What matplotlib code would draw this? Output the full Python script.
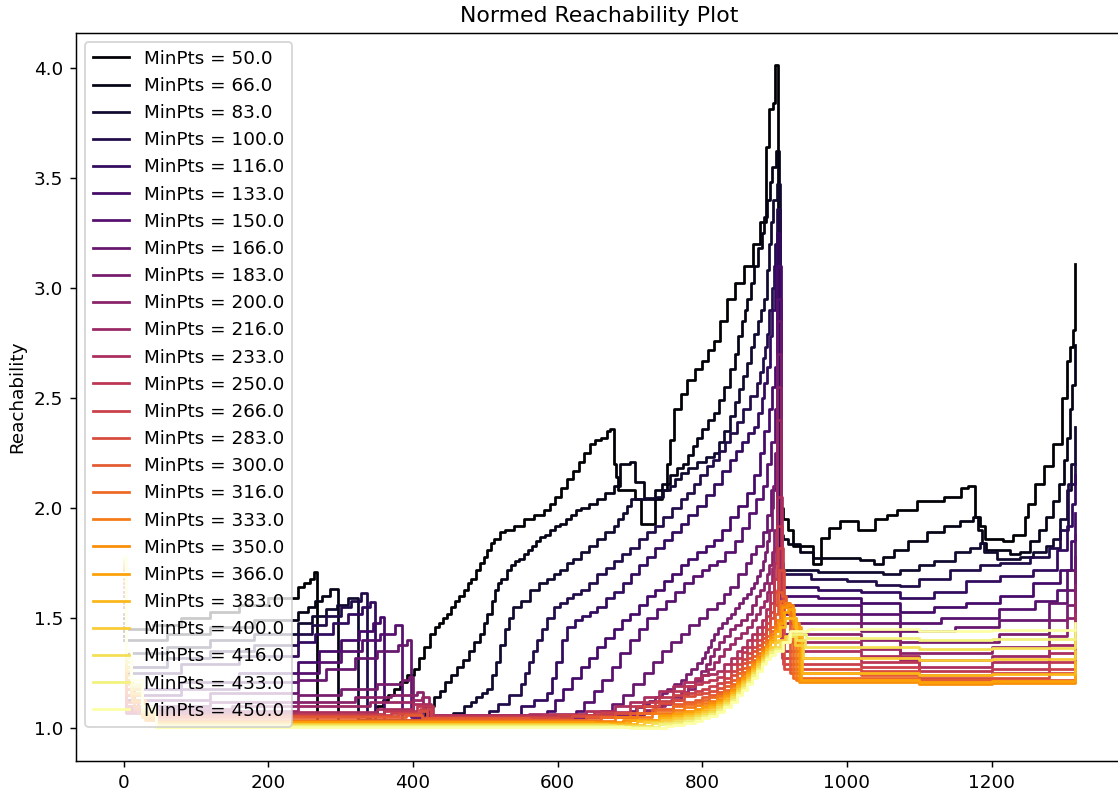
import matplotlib
matplotlib.use("Agg")
import matplotlib.pyplot as plt

# ---- data: MinPts values and reachability knots (x, y) ----
min_pts = [50.0, 66.0, 83.0, 100.0, 116.0, 133.0, 150.0, 166.0, 183.0, 200.0,
           216.0, 233.0, 250.0, 266.0, 283.0, 300.0, 316.0, 333.0, 350.0, 366.0,
           383.0, 400.0, 416.0, 433.0, 450.0]

r050 = [(0,1.50),(3,1.45),(40,1.47),(80,1.50),(120,1.53),(160,1.56),(200,1.59),(241,1.643),(250,1.66),(258,1.68),(263,1.711),
        (268,1.02),(300,1.025),(325,1.04),(340,1.07),(350,1.10),(358,1.13),(366,1.15),(374,1.18),(382,1.21),(392,1.24),(401,1.27),
        (408,1.32),(415,1.37),(424,1.43),(430,1.46),(436,1.48),(441,1.50),(447,1.52),(452,1.55),(458,1.58),(464,1.60),(470,1.63),
        (476,1.66),(481,1.68),(487,1.72),(493,1.75),(498,1.78),(503,1.81),(508,1.84),(512,1.86),(520,1.89),(528,1.90),(540,1.92),
        (553,1.95),(567,1.97),(581,1.99),(589,2.02),(597,2.05),(605,2.09),(613,2.13),(621,2.17),(629,2.21),(637,2.25),(645,2.29),
        (652,2.31),(660,2.32),(668,2.35),(673,2.36),(678,2.20),(681,2.14),(684,2.08),(707,2.04),(716,1.93),(735,2.04),(745,2.08),
        (752,2.20),(756,2.31),(761,2.45),(770,2.52),(779,2.58),(790,2.63),(800,2.67),(808,2.72),(816,2.76),(825,2.85),(834,2.95),
        (845,3.02),(858,3.10),(870,3.20),(880,3.30),(888,3.64),(893,3.81),(898,3.84),(901,4.01),(905,2.00),(912,1.95),(918,1.90),
        (926,1.83),(953,1.745),(964,1.865),(976,1.91),(990,1.94),(1015,1.90),(1039,1.95),(1055,1.97),(1069,1.99),(1097,2.03),
        (1134,2.05),(1158,2.09),(1168,2.10),(1177,1.96),(1184,1.92),(1191,1.86),(1216,1.85),(1230,1.88),(1246,1.96),(1251,2.02),
        (1260,2.11),(1272,2.19),(1285,2.29),(1297,2.50),(1304,2.67),(1308,2.73),(1313,2.81),(1316,3.11)]

r066 = [(0,1.46),(3,1.40),(60,1.43),(120,1.46),(180,1.49),(241,1.53),(255,1.55),(265,1.58),(275,1.60),(285,1.633),
        (296,1.03),(340,1.03),(380,1.04),(405,1.06),(417,1.10),(429,1.14),(437,1.17),(445,1.21),(453,1.24),(461,1.28),(469,1.31),
        (477,1.35),(485,1.39),(493,1.43),(498,1.48),(503,1.52),(509,1.58),(514,1.63),(518,1.66),(522,1.68),(530,1.72),(536,1.74),
        (541,1.76),(547,1.77),(553,1.79),(559,1.81),(565,1.83),(570,1.85),(576,1.87),(583,1.88),(590,1.90),(597,1.92),(604,1.93),
        (611,1.95),(618,1.97),(625,1.99),(632,2.00),(643,2.02),(655,2.04),(666,2.07),(678,2.10),(686,2.20),(700,2.21),(707,2.12),
        (720,2.04),(735,2.08),(745,2.11),(755,2.15),(765,2.18),(773,2.20),(780,2.24),(787,2.28),(793,2.32),(800,2.36),(808,2.40),
        (816,2.43),(823,2.49),(830,2.55),(838,2.63),(845,2.70),(850,2.78),(855,2.85),(859,2.90),(862,2.95),(867,3.02),(872,3.10),
        (877,3.18),(882,3.25),(886,3.32),(890,3.40),(894,3.48),(897,3.55),(902,3.62),(906,1.88),(912,1.86),(919,1.835),(935,1.80),
        (953,1.775),(1018,1.765),(1037,1.745),(1050,1.78),(1065,1.81),(1085,1.85),(1111,1.89),(1135,1.92),(1157,1.94),(1175,1.96),
        (1182,1.90),(1187,1.84),(1193,1.81),(1225,1.79),(1239,1.80),(1253,1.85),(1265,1.90),(1276,1.96),(1285,2.03),(1294,2.11),
        (1300,2.22),(1304,2.32),(1308,2.45),(1311,2.56),(1316,2.74)]

r083 = [(0,1.44),(3,1.34),(60,1.37),(120,1.40),(180,1.43),(241,1.48),(260,1.51),(280,1.54),(295,1.56),(310,1.59),
        (324,1.03),(400,1.035),(440,1.05),(455,1.07),(470,1.10),(480,1.12),(487,1.14),(495,1.16),(503,1.18),(509,1.24),(515,1.30),
        (521,1.38),(527,1.45),(533,1.50),(538,1.55),(549,1.58),(562,1.63),(575,1.66),(585,1.68),(595,1.70),(604,1.72),(613,1.75),
        (622,1.77),(632,1.80),(643,1.83),(655,1.86),(666,1.89),(678,1.92),(684,1.95),(690,1.98),(696,2.01),(701,2.04),(720,2.045),
        (738,2.05),(746,2.08),(755,2.10),(762,2.13),(770,2.16),(781,2.18),(793,2.21),(805,2.23),(816,2.25),(823,2.30),(830,2.35),
        (838,2.42),(845,2.48),(851,2.54),(857,2.60),(862,2.66),(867,2.73),(872,2.79),(877,2.85),(881,2.90),(885,2.95),(889,3.08),
        (892,3.20),(895,3.30),(898,3.40),(903,3.47),(907,1.75),(912,1.72),(960,1.71),(1020,1.71),(1050,1.70),(1073,1.72),
        (1100,1.74),(1120,1.76),(1150,1.80),(1170,1.82),(1184,1.84),(1190,1.80),(1207,1.77),(1240,1.78),(1258,1.80),(1275,1.83),
        (1285,1.86),(1295,1.95),(1304,2.08),(1310,2.20),(1316,2.37)]

r100 = [(0,1.42),(3,1.28),(60,1.32),(120,1.35),(180,1.38),(241,1.43),(260,1.47),(280,1.51),(300,1.55),(315,1.58),(328,1.616),
        (337,1.04),(420,1.04),(480,1.05),(505,1.08),(517,1.11),(533,1.15),(549,1.20),(555,1.25),(560,1.30),(566,1.35),(572,1.40),
        (578,1.45),(585,1.50),(595,1.55),(604,1.57),(613,1.59),(622,1.61),(632,1.63),(643,1.66),(655,1.70),(667,1.73),(678,1.76),
        (689,1.79),(700,1.82),(712,1.86),(724,1.89),(735,1.92),(746,1.96),(758,2.00),(770,2.04),(779,2.07),(788,2.11),(797,2.15),
        (807,2.19),(815,2.22),(823,2.26),(831,2.30),(839,2.34),(848,2.39),(857,2.45),(866,2.51),(876,2.57),(880,2.62),(884,2.68),
        (887,2.73),(890,2.79),(893,2.90),(896,3.00),(899,3.10),(901,3.20),(904,3.36),(908,1.70),(950,1.68),(1000,1.67),(1040,1.65),
        (1073,1.645),(1100,1.68),(1142,1.72),(1184,1.74),(1212,1.75),(1253,1.78),(1280,1.82),(1295,1.90),(1306,2.11),(1316,2.20)]

r116 = [(0,1.40),(3,1.25),(80,1.29),(160,1.33),(241,1.39),(265,1.43),(290,1.48),(310,1.52),(330,1.55),(340,1.575),
        (347,1.04),(450,1.04),(520,1.045),(549,1.10),(567,1.13),(585,1.16),(592,1.23),(598,1.30),(606,1.40),(613,1.46),(624,1.49),
        (634,1.51),(645,1.53),(655,1.55),(667,1.59),(678,1.62),(690,1.66),(701,1.70),(713,1.74),(724,1.78),(735,1.82),(747,1.855),
        (758,1.89),(770,1.93),(781,1.97),(793,2.01),(805,2.06),(816,2.11),(828,2.17),(839,2.22),(847,2.26),(855,2.30),(863,2.34),
        (871,2.37),(877,2.43),(882,2.50),(886,2.57),(890,2.64),(894,2.78),(897,2.90),(901,3.10),(904,3.25),(908,1.64),(960,1.63),
        (1020,1.62),(1073,1.59),(1120,1.62),(1165,1.67),(1212,1.69),(1257,1.72),(1290,1.81),(1305,1.92),(1311,2.02),(1316,2.15)]

r133 = [(0,1.42),(3,1.18),(80,1.21),(160,1.25),(241,1.30),(270,1.35),(300,1.40),(325,1.44),(345,1.48),(355,1.507),
        (360,1.04),(450,1.04),(530,1.045),(585,1.08),(597,1.13),(608,1.18),(620,1.23),(632,1.28),(643,1.32),(655,1.37),(666,1.41),
        (678,1.45),(689,1.49),(700,1.52),(712,1.56),(724,1.60),(735,1.63),(747,1.67),(758,1.70),(770,1.74),(781,1.77),(793,1.80),
        (805,1.83),(816,1.855),(828,1.90),(839,1.96),(850,2.01),(862,2.07),(871,2.15),(880,2.25),(886,2.35),(892,2.45),(897,2.55),
        (901,2.64),(904,3.10),(909,1.60),(960,1.59),(1020,1.57),(1073,1.53),(1120,1.55),(1165,1.57),(1212,1.60),(1257,1.66),
        (1295,1.72),(1310,1.85),(1316,1.98)]

r150 = [(0,1.45),(3,1.15),(80,1.18),(160,1.21),(241,1.25),(270,1.30),(300,1.35),(330,1.40),(355,1.43),(375,1.47),
        (385,1.04),(500,1.04),(580,1.045),(625,1.08),(637,1.12),(650,1.17),(662,1.22),(675,1.28),(687,1.34),(700,1.40),(712,1.45),
        (724,1.50),(737,1.54),(750,1.58),(762,1.62),(775,1.66),(787,1.69),(800,1.72),(810,1.74),(820,1.76),(832,1.80),(845,1.85),
        (855,1.91),(865,1.98),(875,2.04),(884,2.10),(890,2.20),(895,2.30),(900,2.45),(903,2.95),(909,1.56),(1020,1.52),(1073,1.48),
        (1130,1.50),(1211,1.54),(1260,1.58),(1290,1.63),(1305,1.72),(1316,1.88)]

r166 = [(0,1.48),(3,1.13),(120,1.16),(241,1.22),(280,1.27),(320,1.32),(350,1.35),(380,1.38),(392,1.40),
        (398,1.05),(520,1.05),(610,1.055),(660,1.08),(675,1.11),(690,1.15),(705,1.20),(720,1.25),(732,1.30),(745,1.35),(757,1.39),
        (770,1.43),(782,1.47),(795,1.50),(807,1.54),(820,1.57),(830,1.61),(839,1.64),(850,1.70),(860,1.75),(868,1.79),(875,1.83),
        (884,1.89),(890,1.97),(895,2.08),(900,2.25),(903,2.85),(909,1.52),(1020,1.48),(1073,1.44),(1150,1.46),(1211,1.49),
        (1280,1.57),(1305,1.63),(1316,1.78)]

r183 = [(0,1.50),(3,1.10),(120,1.12),(241,1.15),(300,1.18),(350,1.20),(385,1.22),(395,1.234),
        (400,1.05),(540,1.05),(640,1.06),(700,1.08),(709,1.095),(718,1.11),(727,1.125),(735,1.14),(744,1.16),(752,1.18),(761,1.20),
        (770,1.22),(778,1.245),(785,1.27),(793,1.295),(800,1.32),(804,1.345),(808,1.37),(812,1.40),(816,1.43),(822,1.455),
        (828,1.48),(834,1.50),(840,1.52),(846,1.545),(851,1.57),(857,1.59),(862,1.61),(867,1.635),(871,1.66),(876,1.69),(880,1.72),
        (884,1.76),(887,1.80),(890,1.85),(893,1.90),(896,2.00),(898,2.10),(903,2.70),
        (909,1.48),(1020,1.44),(1073,1.39),(1211,1.43),(1280,1.49),(1305,1.56),(1316,1.72)]

r200 = [(0,1.52),(3,1.09),(150,1.10),(241,1.12),(320,1.14),(370,1.15),(405,1.166),
        (414,1.05),(560,1.05),(660,1.06),(720,1.08),(735,1.10),(745,1.11),(757,1.13),(770,1.15),(780,1.18),(790,1.22),(798,1.26),
        (805,1.29),(811,1.33),(816,1.36),(823,1.39),(830,1.42),(838,1.45),(845,1.47),(853,1.49),(862,1.52),(869,1.56),(875,1.60),
        (880,1.63),(885,1.66),(889,1.70),(893,1.74),(896,1.80),(899,1.90),(903,2.55),
        (909,1.43),(1020,1.40),(1073,1.34),(1200,1.37),(1280,1.42),(1305,1.50),(1316,1.65)]

r216 = [(0,1.55),(3,1.08),(241,1.10),(340,1.12),(400,1.13),(412,1.144),
        (422,1.06),(580,1.06),(680,1.07),(720,1.085),(735,1.10),(748,1.12),(760,1.14),(770,1.165),(780,1.19),(790,1.215),
        (800,1.24),(808,1.27),(816,1.30),(823,1.33),(830,1.36),(838,1.385),(846,1.41),(854,1.435),(862,1.46),(869,1.49),
        (875,1.52),(880,1.55),(885,1.58),(889,1.62),(893,1.66),(896,1.73),(899,1.82),(903,2.40),
        (909,1.39),(1020,1.36),(1073,1.31),(1200,1.33),(1280,1.38),(1316,1.58)]

r233 = [(0,1.57),(3,1.07),(241,1.075),(350,1.09),(400,1.11),
        (425,1.06),(480,1.06),(560,1.065),(640,1.08),(680,1.10),(700,1.12),(720,1.14),(740,1.17),(760,1.19),(775,1.21),(790,1.23),
        (800,1.24),(810,1.245),(820,1.26),(830,1.29),(840,1.32),(848,1.35),(855,1.37),(862,1.40),(869,1.43),(876,1.46),(882,1.49),
        (888,1.54),(894,1.62),(899,1.75),(903,2.05),
        (910,1.35),(1020,1.33),(1100,1.28),(1200,1.30),(1280,1.34),(1316,1.52)]

r250 = [(0,1.60),(3,1.08),(30,1.06),(241,1.065),(360,1.08),(405,1.10),
        (428,1.055),(500,1.055),(580,1.06),(650,1.075),(700,1.10),(720,1.12),(740,1.14),(760,1.17),(775,1.19),(790,1.20),
        (800,1.21),(810,1.22),(820,1.235),(830,1.26),(840,1.29),(848,1.32),(855,1.345),(862,1.37),(869,1.40),(876,1.43),(882,1.46),
        (888,1.51),(894,1.57),(899,1.68),(904,1.92),
        (911,1.32),(1020,1.30),(1100,1.26),(1200,1.27),(1280,1.30),(1316,1.45)]

r266 = [(0,1.62),(3,1.10),(30,1.06),(241,1.06),(370,1.07),(410,1.09),
        (425,1.05),(520,1.05),(600,1.06),(660,1.07),(710,1.10),(735,1.125),(760,1.15),(775,1.16),(790,1.17),(800,1.18),(810,1.19),
        (820,1.205),(830,1.23),(840,1.26),(848,1.29),(855,1.315),(862,1.34),(869,1.37),(876,1.40),(882,1.43),(888,1.48),(894,1.53),
        (899,1.62),(905,1.82),
        (912,1.29),(1020,1.28),(1100,1.24),(1200,1.25),(1280,1.27),(1316,1.40)]

r283 = [(0,1.64),(3,1.12),(20,1.07),(40,1.055),(380,1.065),(410,1.08),
        (420,1.045),(540,1.045),(620,1.055),(680,1.07),(720,1.10),(740,1.115),(760,1.13),(775,1.145),(790,1.155),(800,1.16),
        (810,1.17),(820,1.185),(830,1.21),(840,1.24),(848,1.27),(855,1.295),(862,1.32),(869,1.35),(876,1.38),(882,1.41),(888,1.45),
        (894,1.50),(899,1.56),(903,1.63),(906,1.72),
        (913,1.27),(1020,1.26),(1100,1.23),(1200,1.23),(1280,1.25),(1316,1.36)]

r300 = [(0,1.66),(3,1.15),(15,1.09),(35,1.05),(390,1.06),
        (412,1.045),(560,1.04),(640,1.05),(700,1.07),(730,1.09),(760,1.11),(775,1.12),(790,1.13),(800,1.14),(810,1.15),(820,1.165),
        (830,1.19),(840,1.22),(848,1.25),(855,1.275),(862,1.30),(869,1.33),(876,1.36),(882,1.39),(888,1.42),(894,1.46),(900,1.52),
        (905,1.62),(910,1.60),(916,1.55),(922,1.25),(1020,1.24),(1100,1.22),(1200,1.22),(1316,1.32)]

r316 = [(0,1.68),(3,1.18),(15,1.10),(35,1.04),(600,1.04),(660,1.05),(710,1.07),(735,1.085),(760,1.10),(775,1.11),(790,1.12),
        (800,1.13),(810,1.14),(820,1.155),(830,1.175),(840,1.20),(848,1.23),(855,1.255),(862,1.28),(869,1.31),(876,1.34),(882,1.37),
        (888,1.40),(894,1.44),(900,1.49),(907,1.58),(913,1.57),(920,1.52),(926,1.23),(1100,1.21),(1200,1.215),(1316,1.30)]

r333 = [(0,1.70),(3,1.20),(12,1.12),(30,1.05),(45,1.035),(620,1.035),(680,1.05),(730,1.07),(760,1.085),(775,1.095),(790,1.105),
        (800,1.115),(810,1.125),(820,1.145),(830,1.165),(840,1.19),(848,1.22),(855,1.245),(862,1.27),(869,1.30),(876,1.33),
        (882,1.36),(888,1.39),(894,1.43),(900,1.47),(909,1.56),(915,1.57),(922,1.50),(930,1.22),(1100,1.205),(1200,1.21),
        (1316,1.28)]

r350 = [(0,1.72),(3,1.22),(12,1.13),(30,1.04),(45,1.03),(640,1.03),(690,1.04),(740,1.06),(760,1.07),(775,1.08),(790,1.09),
        (800,1.10),(810,1.115),(820,1.135),(830,1.155),(840,1.18),(848,1.21),(855,1.235),(862,1.26),(869,1.29),(876,1.32),
        (882,1.35),(888,1.38),(894,1.415),(900,1.45),(905,1.49),(911,1.55),(917,1.56),(925,1.48),(934,1.21),(1100,1.20),
        (1200,1.205),(1316,1.27)]

r366 = [(0,1.73),(3,1.24),(10,1.15),(25,1.05),(45,1.03),(650,1.025),(700,1.04),(740,1.055),(760,1.065),(775,1.075),(790,1.085),
        (800,1.095),(810,1.105),(820,1.125),(830,1.145),(840,1.17),(848,1.20),(855,1.225),(862,1.25),(869,1.28),(876,1.31),
        (882,1.34),(888,1.37),(894,1.40),(900,1.44),(906,1.48),(913,1.53),(919,1.54),(927,1.46),(936,1.22),(1100,1.21),
        (1200,1.215),(1316,1.28)]

r383 = [(0,1.74),(3,1.26),(10,1.16),(25,1.06),(45,1.02),(660,1.02),(710,1.035),(740,1.045),(760,1.055),(775,1.065),(790,1.075),
        (800,1.085),(810,1.095),(820,1.115),(830,1.135),(840,1.16),(848,1.19),(855,1.215),(862,1.24),(869,1.27),(876,1.30),
        (882,1.33),(888,1.36),(894,1.39),(900,1.42),(907,1.46),(915,1.50),(921,1.50),(930,1.42),(938,1.25),(1100,1.24),
        (1200,1.245),(1316,1.30)]

r400 = [(0,1.75),(3,1.28),(10,1.18),(25,1.07),(45,1.02),(670,1.015),(720,1.03),(745,1.04),(760,1.045),(775,1.055),(790,1.065),
        (800,1.075),(810,1.085),(820,1.105),(830,1.125),(840,1.15),(848,1.18),(855,1.205),(862,1.23),(869,1.26),(876,1.29),
        (882,1.32),(888,1.345),(894,1.37),(900,1.39),(905,1.40),(915,1.42),(928,1.38),(940,1.32),(1100,1.31),(1200,1.315),
        (1316,1.35)]

r416 = [(0,1.76),(3,1.30),(10,1.19),(25,1.08),(45,1.015),(680,1.01),(730,1.025),(760,1.035),(775,1.045),(790,1.055),
        (800,1.065),(810,1.075),(820,1.095),(830,1.115),(840,1.14),(848,1.17),(855,1.195),(862,1.22),(869,1.25),(876,1.28),
        (882,1.31),(888,1.335),(894,1.355),(900,1.37),(908,1.39),(918,1.42),(930,1.40),(942,1.37),(1100,1.36),(1200,1.365),
        (1316,1.40)]

r433 = [(0,1.77),(3,1.32),(10,1.20),(25,1.09),(45,1.01),(690,1.007),(740,1.02),(760,1.025),(775,1.035),(790,1.045),
        (800,1.055),(810,1.065),(820,1.085),(830,1.105),(840,1.13),(848,1.16),(855,1.185),(862,1.21),(869,1.24),(876,1.27),
        (882,1.30),(888,1.325),(894,1.345),(900,1.36),(910,1.39),(920,1.43),(944,1.41),(1100,1.40),(1200,1.405),(1316,1.44)]

r450 = [(0,1.78),(3,1.35),(10,1.22),(25,1.10),(45,1.005),(700,1.003),(750,1.012),(760,1.015),(775,1.025),(790,1.035),
        (800,1.045),(810,1.055),(820,1.075),(830,1.095),(840,1.12),(848,1.15),(855,1.175),(862,1.20),(869,1.23),(876,1.26),
        (882,1.29),(888,1.315),(894,1.335),(900,1.35),(912,1.39),(922,1.44),(946,1.45),(1100,1.44),(1200,1.445),(1316,1.48)]

series = [r050, r066, r083, r100, r116, r133, r150, r166, r183, r200, r216, r233, r250,
          r266, r283, r300, r316, r333, r350, r366, r383, r400, r416, r433, r450]

# ---- figure ----
DPI = 132
fig = plt.figure(figsize=(1118 / DPI, 794 / DPI), dpi=DPI)
ax = fig.add_axes([76 / 1118, 1 - 760.7 / 794, (1123 - 76) / 1118, (760.7 - 33.3) / 794])

cmap = plt.get_cmap("inferno")
n = len(series)
for i, (mp, pts) in enumerate(zip(min_pts, series)):
    xs = [p[0] for p in pts]
    ys = [p[1] for p in pts]
    ax.plot(xs, ys, drawstyle="steps-post", color=cmap(i / (n - 1)),
            lw=1.5, label=f"MinPts = {mp}")

ax.set_xlim(-65.8, 1381.8)
ax.set_ylim(0.853, 4.156)
ax.set_xticks([0, 200, 400, 600, 800, 1000, 1200])
ax.set_yticks([1.0, 1.5, 2.0, 2.5, 3.0, 3.5, 4.0])
ax.set_ylabel("Reachability")
ax.set_title("Normed Reachability Plot")
ax.legend(loc="upper left")

fig.savefig("out.png", dpi=DPI)
